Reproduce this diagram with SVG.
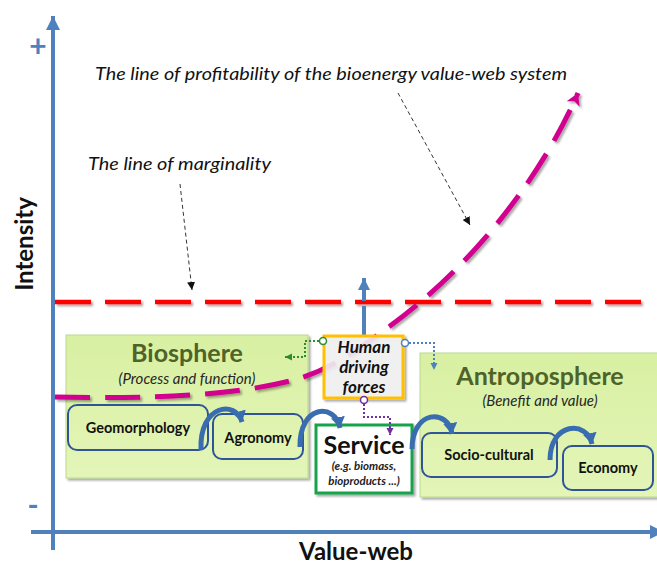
<svg xmlns="http://www.w3.org/2000/svg" width="657" height="564" viewBox="0 0 657 564">
<defs>
  <style>
    text { font-family: Lato, "Liberation Sans", sans-serif; }
    .axis { stroke: #4f81bd; stroke-width: 4; fill: none; }
    .sphere { fill: url(#gGreen); stroke: #b9d98d; stroke-width: 1; }
    .sub { fill: none; stroke: #2f5597; stroke-width: 2; }
    .big { font-weight: bold; font-size: 25px; fill: #4f6228; text-anchor: middle; }
    .note { font-style: italic; font-size: 15px; fill: #262626; text-anchor: middle; }
    .lbl { font-weight: bold; font-size: 14.5px; fill: #111; text-anchor: middle; }
    .cap { font-style: italic; font-size: 17px; fill: #111; }
    .hdf { font-weight: bold; font-style: italic; font-size: 17px; fill: #111; text-anchor: middle; }
    .svc { font-weight: bold; font-style: italic; font-size: 11.5px; fill: #222; text-anchor: middle; }
    .curv { fill: none; stroke: #3a6db0; stroke-width: 5; }
    .dot { fill: none; stroke-width: 2; stroke-dasharray: 2 2; }
    .thin { fill: none; stroke: #333; stroke-width: 1; stroke-dasharray: 4 3; }
  </style>
  <linearGradient id="gGreen" x1="0" y1="0" x2="0" y2="1">
    <stop offset="0" stop-color="#d8f0a2"/>
    <stop offset="1" stop-color="#e4f5b8"/>
  </linearGradient>
  <filter id="sh" x="-10%" y="-10%" width="130%" height="130%">
    <feDropShadow dx="2" dy="2" stdDeviation="1.3" flood-color="#000" flood-opacity="0.35"/>
  </filter>
  <filter id="shU" filterUnits="userSpaceOnUse" x="0" y="0" width="657" height="564">
    <feDropShadow dx="2" dy="2" stdDeviation="1.3" flood-color="#000" flood-opacity="0.35"/>
  </filter>
  <marker id="mAxis" markerUnits="userSpaceOnUse" markerWidth="16" markerHeight="16" refX="14" refY="7" orient="auto">
    <path d="M0,0 L14,7 L0,14 Z" fill="#4f81bd"/>
  </marker>
  <marker id="mBlueDash" markerUnits="userSpaceOnUse" markerWidth="14" markerHeight="14" refX="12" refY="6" orient="auto">
    <path d="M0,0 L12,6 L0,12 Z" fill="#4f81bd"/>
  </marker>
  <marker id="mMag" markerUnits="userSpaceOnUse" markerWidth="16" markerHeight="16" refX="12" refY="7" orient="auto">
    <path d="M0,0 L12,7 L0,14 L3,7 Z" fill="#d1068f"/>
  </marker>
  <marker id="mCurv" markerUnits="userSpaceOnUse" markerWidth="16" markerHeight="16" refX="11" refY="7" orient="auto">
    <path d="M0,0 L11,7 L0,14 Z" fill="#3a6db0"/>
  </marker>
  <marker id="mBlack" markerUnits="userSpaceOnUse" markerWidth="10" markerHeight="10" refX="8" refY="4" orient="auto">
    <path d="M0,0 L8,4 L0,8 Z" fill="#111"/>
  </marker>
  <marker id="mGreen" markerUnits="userSpaceOnUse" markerWidth="10" markerHeight="10" refX="7" refY="3.5" orient="auto">
    <path d="M0,0 L7,3.5 L0,7 Z" fill="#2e8b2e"/>
  </marker>
  <marker id="mBlueDot" markerUnits="userSpaceOnUse" markerWidth="10" markerHeight="10" refX="7" refY="3.5" orient="auto">
    <path d="M0,0 L7,3.5 L0,7 Z" fill="#4f81bd"/>
  </marker>
  <marker id="mPurple" markerUnits="userSpaceOnUse" markerWidth="10" markerHeight="10" refX="7" refY="3.5" orient="auto">
    <path d="M0,0 L7,3.5 L0,7 Z" fill="#7030a0"/>
  </marker>
</defs>

<rect x="0" y="0" width="657" height="564" fill="#ffffff"/>

<!-- axes -->
<g id="axes">
  <line class="axis" x1="53" y1="550" x2="53" y2="16" marker-end="url(#mAxis)"/>
  <line class="axis" x1="31" y1="532" x2="664" y2="532" marker-end="url(#mAxis)"/>
  <text x="38" y="57" font-size="30" font-weight="bold" fill="#4f81bd" text-anchor="middle">+</text>
  <text x="33" y="516" font-size="30" font-weight="bold" fill="#4f81bd" text-anchor="middle">-</text>
  <text transform="translate(33,244) rotate(-90)" font-size="24" font-weight="bold" fill="#111" text-anchor="middle">Intensity</text>
  <text x="356" y="560" font-size="24" font-weight="bold" fill="#111" text-anchor="middle">Value-web</text>
</g>

<!-- captions -->
<g id="captions">
  <text class="cap" x="95" y="80" textLength="472" lengthAdjust="spacingAndGlyphs">The line of profitability of the bioenergy value-web system</text>
  <text class="cap" x="88" y="170" textLength="183" lengthAdjust="spacingAndGlyphs">The line of marginality</text>
</g>

<!-- spheres -->
<g id="biosphere">
  <rect class="sphere" x="66" y="335" width="242" height="143" filter="url(#sh)"/>
  <text class="big" x="187" y="362">Biosphere</text>
  <text class="note" x="187" y="384">(Process and function)</text>
</g>
<g id="antroposphere">
  <rect class="sphere" x="420" y="353" width="245" height="144" filter="url(#sh)"/>
  <text class="big" x="540" y="385">Antroposphere</text>
  <text class="note" x="540" y="406">(Benefit and value)</text>
</g>

<!-- lines -->
<g id="connectors">
  <path d="M55,302 H645" fill="none" stroke="#ff0000" stroke-width="4.5" stroke-dasharray="36 14" filter="url(#shU)"/>
  <path d="M55,397 C150,399 230,396 290,381 C330,371 360,348 390,326 C470,268 540,180 578,93" fill="none" stroke="#d1068f" stroke-width="5" stroke-dasharray="35 15" filter="url(#shU)" marker-end="url(#mMag)"/>
  <line class="thin" x1="180" y1="184" x2="192" y2="290" marker-end="url(#mBlack)"/>
  <line class="thin" x1="398" y1="93" x2="470" y2="225" marker-end="url(#mBlack)"/>
  <line x1="364" y1="336" x2="364" y2="278" stroke="#4f81bd" stroke-width="4" stroke-dasharray="30 5" marker-end="url(#mBlueDash)"/>
</g>

<!-- sub-nodes -->
<g id="geomorphology">
  <rect class="sub" x="68" y="405" width="140" height="45" rx="9"/>
  <text class="lbl" x="138" y="433">Geomorphology</text>
</g>
<g id="agronomy">
  <rect class="sub" x="213" y="414" width="90" height="45" rx="9"/>
  <text class="lbl" x="258" y="443">Agronomy</text>
</g>
<g id="socio-cultural">
  <rect class="sub" x="422" y="433" width="135" height="44" rx="9"/>
  <text class="lbl" x="489" y="460">Socio-cultural</text>
</g>
<g id="economy">
  <rect class="sub" x="563" y="446" width="90" height="44" rx="9"/>
  <text class="lbl" x="608" y="473">Economy</text>
</g>

<g id="human-driving-forces">
  <rect x="324" y="336" width="79" height="62" fill="#f2f2f2" fill-opacity="0.88" stroke="#ffc000" stroke-width="3" filter="url(#sh)"/>
  <text class="hdf" x="364" y="353">Human</text>
  <text class="hdf" x="364" y="373">driving</text>
  <text class="hdf" x="364" y="393">forces</text>
</g>

<g id="service">
  <rect x="316" y="425" width="96" height="68" fill="#ffffff" stroke="#16a34a" stroke-width="3" filter="url(#sh)"/>
  <text x="364" y="454" font-size="25" font-weight="bold" fill="#111" text-anchor="middle">Service</text>
  <text class="svc" x="364" y="470">(e.g. biomass,</text>
  <text class="svc" x="364" y="485">bioproducts ...)</text>
</g>

<!-- flow arrows and dotted links -->
<g id="flow">
  <path class="curv" d="M201,450 C199,404 236,400 242,422" marker-end="url(#mCurv)"/>
  <path class="curv" d="M300,447 C299,405 335,402 340,428" marker-end="url(#mCurv)"/>
  <path class="curv" d="M412,449 C412,410 448,408 452,434" marker-end="url(#mCurv)"/>
  <path class="curv" d="M550,460 C550,422 587,420 592,444" marker-end="url(#mCurv)"/>

  <path class="dot" d="M319,341 H305 V357 H285" stroke="#2e8b2e" marker-end="url(#mGreen)"/>
  <circle cx="323" cy="341" r="3.5" fill="#fff" stroke="#2e8b2e" stroke-width="1.5"/>
  <path class="dot" d="M409,343 H434 V370" stroke="#4f81bd" marker-end="url(#mBlueDot)"/>
  <circle cx="405" cy="343" r="3.5" fill="#fff" stroke="#4f81bd" stroke-width="1.5"/>
  <path class="dot" d="M364,404 V417 H390 V435" stroke="#7030a0" marker-end="url(#mPurple)"/>
  <circle cx="364" cy="400" r="3.5" fill="#fff" stroke="#7030a0" stroke-width="1.5"/>
</g>
</svg>
